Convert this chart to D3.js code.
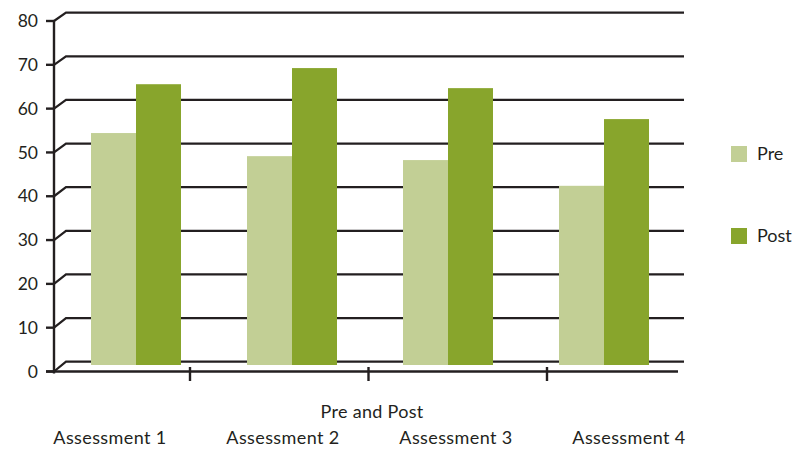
<!DOCTYPE html>
<html><head><meta charset="utf-8">
<script src="https://cdn.jsdelivr.net/npm/d3@7"></script>
<style>
html,body{margin:0;padding:0;background:#fff;}
text{font-family:"Lato","Open Sans",sans-serif;fill:#231f20;}
</style></head>
<body><svg id="c" width="797" height="450"></svg>
<script>
const categories = ["Assessment 1","Assessment 2","Assessment 3","Assessment 4"];
const seriesNames = ["Pre","Post"];
const preValues = [53.2, 47.9, 47, 41.1];
const postValues = [64.4, 68.1, 63.5, 56.4];
const yTicks = [0,10,20,30,40,50,60,70,80];
const axisTitle = "Pre and Post";
const colors = {Pre:"#c2cf95", Post:"#88a52c"};
const dark = "#231f20";

const svg = d3.select("#c");
// three depth planes: front axis, bar plane, back wall
const yFront = d3.scaleLinear().domain([0,80]).range([371.5,21]);
const yBack = d3.scaleLinear().domain([0,80]).range([361.7,12.7]);
const yBar = d3.scaleLinear().domain([0,80]).range([365,16.2]);
const xFront0 = 54, xBack0 = 66, xBackEnd = 684, xFrontEnd = 678;

const x0 = d3.scaleBand().domain(categories).range([58,682]).paddingInner(0.4231).paddingOuter(0.2115);
const x1 = d3.scaleBand().domain(seriesNames).range([0,x0.bandwidth()]);

// gridlines on back wall with slant to front
const g = svg.append("g");
yTicks.forEach(t=>{
  g.append("path")
   .attr("d",`M${xFront0},${yFront(t)} L${xBack0},${yBack(t)} L${xBackEnd},${yBack(t)}`)
   .attr("fill","none").attr("stroke",dark).attr("stroke-width",2.2);
});

// bars
const data = categories.map((c,i)=>({cat:c, vals:[{s:"Pre",v:preValues[i]},{s:"Post",v:postValues[i]}]}));
const bg = svg.append("g").selectAll("g").data(data).join("g")
  .attr("transform",d=>`translate(${x0(d.cat)},0)`);
bg.selectAll("rect").data(d=>d.vals).join("rect")
  .attr("x",d=>x1(d.s)).attr("width",x1.bandwidth())
  .attr("y",d=>yBar(d.v)).attr("height",d=>yBar(0)-yBar(d.v))
  .attr("fill",d=>colors[d.s]);

// front floor line
svg.append("line").attr("x1",46).attr("x2",xFrontEnd).attr("y1",yFront(0)).attr("y2",yFront(0))
  .attr("stroke",dark).attr("stroke-width",2.4);
// vertical axis
svg.append("line").attr("x1",xFront0).attr("x2",xFront0).attr("y1",yFront(80)-1).attr("y2",yFront(0)+2)
  .attr("stroke",dark).attr("stroke-width",2.4);
// y ticks and labels
const ya = svg.append("g");
yTicks.forEach(t=>{
  ya.append("line").attr("x1",46).attr("x2",xFront0).attr("y1",yFront(t)).attr("y2",yFront(t))
    .attr("stroke",dark).attr("stroke-width",2.4);
  ya.append("text").attr("x",38).attr("y",yFront(t)).attr("dy","0.35em")
    .attr("text-anchor","end").attr("font-size",17.5).text(t);
});
// category separators on front floor
const xTick = d3.scaleLinear().domain([1,3]).range([190,547]);
[1,2,3].forEach(i=>{
  svg.append("line").attr("x1",xTick(i)).attr("x2",xTick(i)).attr("y1",367).attr("y2",381)
    .attr("stroke",dark).attr("stroke-width",2.4);
});
// category labels
const xLab = d3.scalePoint().domain(categories).range([110,629]);
categories.forEach(c=>{
  svg.append("text").attr("x",xLab(c)).attr("y",444).attr("text-anchor","middle")
    .attr("font-size",18).attr("letter-spacing",0.4).text(c);
});
svg.append("text").attr("x",372).attr("y",418).attr("text-anchor","middle").attr("font-size",18).attr("letter-spacing",0.3).text(axisTitle);

// legend
const legY = d3.scalePoint().domain(seriesNames).range([154,236]);
seriesNames.forEach(s=>{
  svg.append("rect").attr("x",731).attr("y",legY(s)-8).attr("width",16).attr("height",16).attr("fill",colors[s]);
  svg.append("text").attr("x",757).attr("y",legY(s)).attr("dy","0.35em").attr("font-size",18).text(s);
});
</script></body></html>
